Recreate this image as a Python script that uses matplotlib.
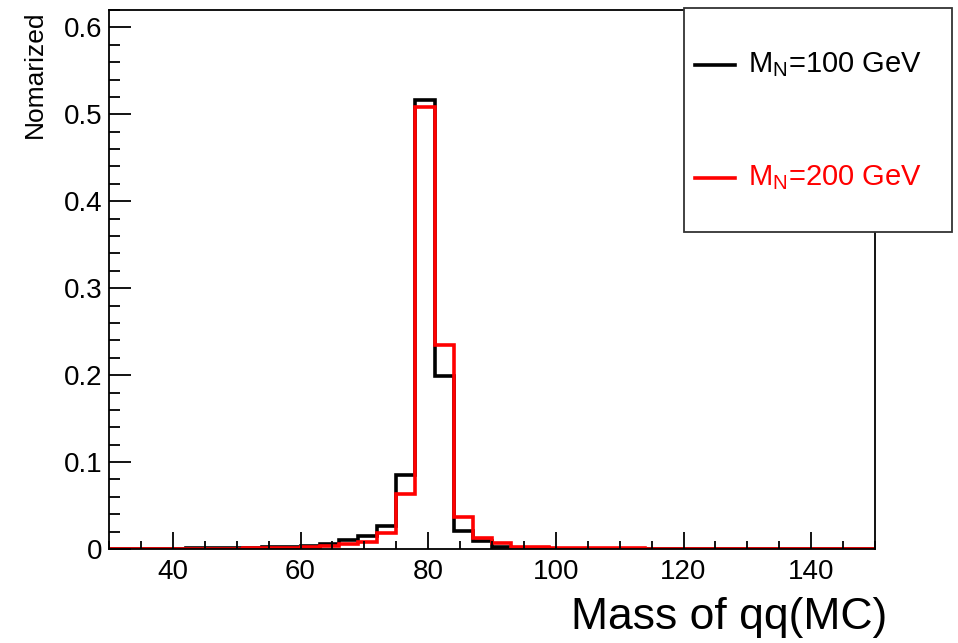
import numpy as np
import matplotlib
matplotlib.use("Agg")
import matplotlib.pyplot as plt
from matplotlib.lines import Line2D
from matplotlib.patches import Rectangle
from matplotlib.ticker import MultipleLocator

plt.rcParams['font.family'] = ['Liberation Sans', 'DejaVu Sans']
plt.rcParams['mathtext.fontset'] = 'custom'
plt.rcParams['mathtext.rm'] = 'Liberation Sans'
plt.rcParams['mathtext.it'] = 'Liberation Sans'

# Histogram binning: 40 bins of width 3 GeV from 30 to 150
bin_edges = np.arange(30, 151, 3)

# M_N = 100 GeV (black)
h_100 = [0.0002, 0.0003, 0.0004, 0.0005, 0.0009, 0.0009, 0.0010, 0.0012,
         0.0018, 0.0027, 0.0034, 0.0057, 0.0103, 0.0155, 0.0270, 0.0850,
         0.5170, 0.1990, 0.0207, 0.0092, 0.0025, 0.0012, 0.0007, 0.0005,
         0.0004, 0.0003, 0.0003, 0.0002, 0.0002, 0.0002, 0.0001, 0.0001,
         0.0001, 0.0001, 0.0001, 0.0001, 0.0001, 0.0001, 0.0001, 0.0001]

# M_N = 200 GeV (red)
h_200 = [0.0002, 0.0002, 0.0003, 0.0003, 0.0004, 0.0004, 0.0005, 0.0006,
         0.0011, 0.0015, 0.0027, 0.0040, 0.0057, 0.0084, 0.0180, 0.0630,
         0.5080, 0.2350, 0.0370, 0.0130, 0.0065, 0.0027, 0.0018, 0.0012,
         0.0010, 0.0008, 0.0007, 0.0006, 0.0005, 0.0004, 0.0004, 0.0003,
         0.0003, 0.0003, 0.0002, 0.0002, 0.0002, 0.0002, 0.0002, 0.0002]

labels = [r'$\mathregular{M_N}$=100 GeV', r'$\mathregular{M_N}$=200 GeV']
colors = ['black', '#ff0000']

W, H = 958, 643
fig = plt.figure(figsize=(W / 100, H / 100), dpi=100)
ax = fig.add_axes([109 / W, 1 - 549 / H, (875 - 109) / W, (549 - 10) / H])

for vals, c in zip([h_100, h_200], colors):
    ax.stairs(vals, bin_edges, color=c, linewidth=2.6, baseline=0)

ax.set_xlim(30, 150)
ax.set_ylim(0, 0.62)

ax.xaxis.set_major_locator(MultipleLocator(20))
ax.xaxis.set_minor_locator(MultipleLocator(5))
ax.yaxis.set_major_locator(MultipleLocator(0.1))
ax.yaxis.set_minor_locator(MultipleLocator(0.02))
ax.yaxis.set_major_formatter(matplotlib.ticker.FuncFormatter(
    lambda v, p: '0' if abs(v) < 1e-9 else f'{v:.1f}'))

ax.tick_params(axis='both', which='both', direction='in', top=False, right=False,
               labelsize=20, width=1.3)
ax.tick_params(axis='x', which='major', length=12, pad=7)
ax.tick_params(axis='x', which='minor', length=6)
ax.tick_params(axis='y', which='major', length=16, pad=5)
ax.tick_params(axis='y', which='minor', length=8)
for s in ax.spines.values():
    s.set_linewidth(1.3)

fig.text(35 / W, 1 - 10 / H, 'Nomarized', rotation=90, ha='center', va='top',
         fontsize=19)
fig.text(887 / W, 1 - 629 / H, 'Mass of qq(MC)', ha='right', va='baseline',
         fontsize=32)

# Legend box
lx0, ly0, lx1, ly1 = 684, 8, 952, 232
fig.patches.append(Rectangle((lx0 / W, 1 - ly1 / H), (lx1 - lx0) / W, (ly1 - ly0) / H,
                             transform=fig.transFigure, facecolor='white',
                             edgecolor='#333333', linewidth=1.3, zorder=5))
for i, (lab, c) in enumerate(zip(labels, colors)):
    yy = 1 - (65 + i * 113) / H
    fig.lines.append(Line2D([695 / W, 735 / W], [yy, yy], color=c, linewidth=2.6,
                            transform=fig.transFigure, zorder=6))
    fig.text(748 / W, yy, lab, color=c, fontsize=21, ha='left', va='center',
             zorder=6)

fig.savefig('out.png', dpi=100)
